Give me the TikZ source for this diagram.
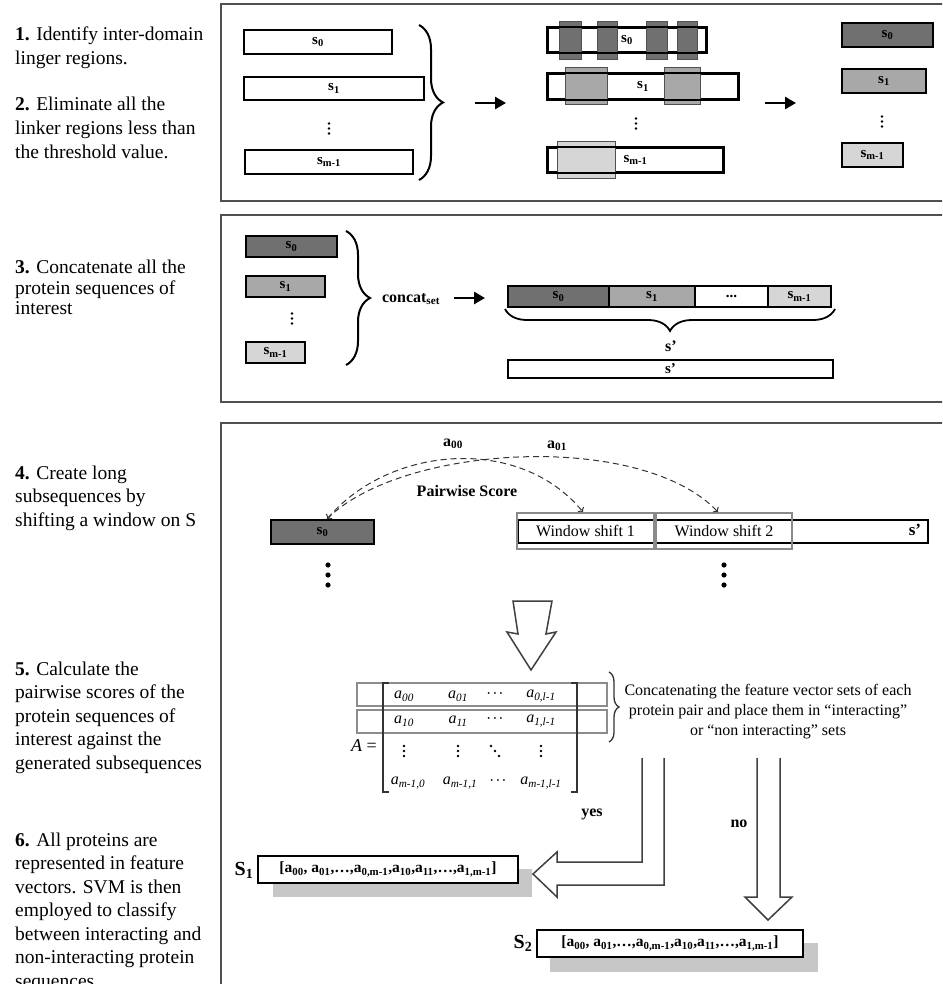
\documentclass[tikz,border=0pt]{standalone}
\usepackage{fontspec}
\setmainfont{Liberation Serif}
\usetikzlibrary{decorations.pathreplacing,arrows.meta}
\definecolor{dk}{HTML}{707070}
\definecolor{md}{HTML}{A8A8A8}
\definecolor{lt}{HTML}{D6D6D6}
\definecolor{frm}{HTML}{505050}
\definecolor{win}{HTML}{8A8A8A}
\newcommand{\mel}[2]{\textit{a}\textsubscript{\textit{#1}}}
\begin{document}
\begin{tikzpicture}[x=1pt,y=-1pt,
  seq/.style={draw=black,line width=2.2pt,inner sep=0pt,font=\fontsize{15}{15}\selectfont\bfseries},
  panel/.style={draw=frm,line width=1.6pt},
  ltext/.style={anchor=base west,inner sep=0pt,font=\fontsize{19.5}{23}\selectfont},
  patchd/.style={fill=dk,draw=frm,line width=0.8pt},
  patchm/.style={fill=md,draw=frm,line width=0.8pt},
  patchl/.style={fill=lt,draw=frm,line width=0.8pt},
  fatarrow/.style={-{Triangle[length=11pt,width=12pt]},line width=2.6pt},
  br/.style={decorate,decoration={brace,amplitude=#1},line width=2pt},
  lbl/.style={inner sep=0pt,font=\fontsize{16}{16}\selectfont\bfseries},
  wbox/.style={draw=win,line width=2.4pt,inner sep=0pt,minimum height=36pt,font=\fontsize{16}{16}\selectfont},
  dsh/.style={dashed,dash pattern=on 6pt off 4pt,line width=1pt,draw=black!80},
  ment/.style={inner sep=0pt,font=\fontsize{16}{16}\selectfont},
  mdots/.style={inner sep=0pt,font=\fontsize{13}{13}\selectfont\boldmath},
  rowbox/.style={draw=black!45,line width=1.5pt},
  hollow/.style={draw=black!75,line width=1.5pt,line join=miter},
  note/.style={inner sep=0pt,align=center,font=\fontsize{16}{20}\selectfont},
  vec/.style={draw=black,line width=2.2pt,fill=white,inner sep=0pt,minimum height=27pt,font=\fontsize{15.5}{16}\selectfont\bfseries},
  shadow/.style={fill=black!22}
]
\useasboundingbox (0,0) rectangle (942,984);
\clip (0,0) rectangle (942,984);
\fill[white] (0,0) rectangle (942,984);

% ---------------- left column text ----------------
\node[ltext] (t1a) at (15,41) {\textbf{1.} Identify inter-domain};
\node[ltext] (t1b) at (15,65) {linger regions.};
\node[ltext] (t2a) at (15,111) {\textbf{2.} Eliminate all the};
\node[ltext] (t2b) at (15,135) {linker regions less than};
\node[ltext] (t2c) at (15,159) {the threshold value.};
\node[ltext] (t3a) at (15,273) {\textbf{3.} Concatenate all the};
\node[ltext] (t3b) at (15,294) {protein sequences of};
\node[ltext] (t3c) at (15,314) {interest};
\node[ltext] (t4a) at (15,479) {\textbf{4.} Create long};
\node[ltext] (t4b) at (15,502.5) {subsequences by};
\node[ltext] (t4c) at (15,526) {shifting a window on S};
\node[ltext] (t5a) at (15,675) {\textbf{5.} Calculate the};
\node[ltext] (t5b) at (15,698.5) {pairwise scores of the};
\node[ltext] (t5c) at (15,722) {protein sequences of};
\node[ltext] (t5d) at (15,745.5) {interest against the};
\node[ltext] (t5e) at (15,769) {generated subsequences};
\node[ltext] (t6a) at (15,846) {\textbf{6.} All proteins are};
\node[ltext] (t6b) at (15,869.5) {represented in feature};
\node[ltext] (t6c) at (15,893) {vectors. SVM is then};
\node[ltext] (t6d) at (15,916.5) {employed to classify};
\node[ltext] (t6e) at (15,940) {between interacting and};
\node[ltext] (t6f) at (15,963.5) {non-interacting protein};
\node[ltext] (t6g) at (15,987) {sequences.};

% ---------------- panel frames ----------------
\draw[panel] (221,4) rectangle (950,201);
\draw[panel] (221,215) rectangle (950,402);
\draw[panel] (221,995) -- (221,423) -- (950,423);

% ---------------- panel 1 ----------------
\node[seq,fill=white,minimum width=148pt,minimum height=24pt] (a0) at (318,42) {s\textsubscript{0}};
\node[seq,fill=white,minimum width=180pt,minimum height=23pt] (a1) at (334,88.5) {s\textsubscript{1}};
\fill (329,123.5) circle (1.4pt) (329,128.5) circle (1.4pt) (329,133.5) circle (1.4pt);
\node[seq,fill=white,minimum width=168pt,minimum height=24pt] (a2) at (329,162) {s\textsubscript{m-1}};
\coordinate (abt) at (419,25);
\coordinate (abb) at (419,180);
\draw[br=24pt] (abt) -- (abb);
\coordinate (aa1) at (475,103);
\coordinate (aa2) at (506,103);
\draw[fatarrow] (aa1) -- (aa2);

\node[seq,fill=white,minimum width=158pt,minimum height=24pt] (b0) at (627,40) {s\textsubscript{0}};
\node[seq,fill=white,minimum width=190pt,minimum height=25pt] (b1) at (643,86.5) {s\textsubscript{1}};
\node[seq,fill=white,minimum width=175pt,minimum height=24pt] (b2) at (635.5,160) {s\textsubscript{m-1}};
\draw[patchd] (559,21) rectangle (581,59);
\draw[patchd] (597,21) rectangle (617,59);
\draw[patchd] (646,21) rectangle (667,59);
\draw[patchd] (677,21) rectangle (697,59);
\draw[patchm] (565,67) rectangle (607,104);
\draw[patchm] (664,67) rectangle (700,104);
\draw[patchl] (557,141) rectangle (615,178);
\draw[line width=2.2pt] (b0.south west) rectangle (b0.north east);
\draw[line width=2.2pt] (b1.south west) rectangle (b1.north east);
\draw[line width=2.2pt] (b2.south west) rectangle (b2.north east);
\fill (636,118.5) circle (1.4pt) (636,123.5) circle (1.4pt) (636,128.5) circle (1.4pt);
\coordinate (ba1) at (765,103);
\coordinate (ba2) at (796,103);
\draw[fatarrow] (ba1) -- (ba2);

\node[seq,fill=dk,minimum width=91pt,minimum height=24pt] (c0) at (887.5,35) {s\textsubscript{0}};
\node[seq,fill=md,minimum width=84pt,minimum height=24pt] (c1) at (884,81) {s\textsubscript{1}};
\fill (882,116.5) circle (1.4pt) (882,121.5) circle (1.4pt) (882,126.5) circle (1.4pt);
\node[seq,fill=lt,minimum width=61pt,minimum height=24pt] (c2) at (872.5,155) {s\textsubscript{m-1}};

% ---------------- panel 2 ----------------
\node[seq,fill=dk,minimum width=91pt,minimum height=21pt] (q0) at (291.5,246.5) {s\textsubscript{0}};
\node[seq,fill=md,minimum width=79pt,minimum height=21pt] (q1) at (285.5,286.5) {s\textsubscript{1}};
\fill (292,313.5) circle (1.4pt) (292,318.5) circle (1.4pt) (292,323.5) circle (1.4pt);
\node[seq,fill=lt,minimum width=59pt,minimum height=21pt] (q2) at (275.5,352.5) {s\textsubscript{m-1}};
\coordinate (qbt) at (346,231);
\coordinate (qbb) at (346,365);
\draw[br=24pt] (qbt) -- (qbb);
\node[lbl] (cl) at (411,299) {concat\textsubscript{set}};
\coordinate (qa1) at (454,298);
\coordinate (qa2) at (485,298);
\draw[fatarrow] (qa1) -- (qa2);

\node[seq,fill=dk,minimum width=101pt,minimum height=21pt] (d0) at (558.5,296.5) {s\textsubscript{0}};
\node[seq,fill=md,minimum width=86pt,minimum height=21pt] (d1) at (652,296.5) {s\textsubscript{1}};
\node[seq,fill=white,minimum width=73pt,minimum height=21pt] (d2) at (731.5,296.5) {...};
\node[seq,fill=lt,minimum width=63pt,minimum height=21pt] (d3) at (799.5,296.5) {s\textsubscript{m-1}};
\coordinate (ubr) at (835,309);
\coordinate (ubl) at (505,309);
\draw[br=22pt,line width=1.8pt] (ubr) -- (ubl);
\node[lbl] (ubs) at (671,346) {s'};
\node[seq,fill=white,minimum width=325pt,minimum height=18pt] (sp) at (670.5,369) {s'};

% ---------------- panel 3 ----------------
\node[seq,fill=dk,minimum width=103pt,minimum height=24pt] (e0) at (322.5,532) {s\textsubscript{0}};
\fill (328,565) circle (2.6pt) (328,575) circle (2.6pt) (328,585) circle (2.6pt);
\node[seq,fill=white,minimum width=410pt,minimum height=23pt] (bar) at (723,531.5) {};
\node[lbl,font=\fontsize{17}{17}\selectfont\bfseries] (barl) at (915,530) {s'};
\node[wbox,minimum width=137pt] (w1) at (585.5,531) {Window shift 1};
\node[wbox,minimum width=136pt] (w2) at (724,531) {Window shift 2};
\fill (724,565) circle (2.6pt) (724,575) circle (2.6pt) (724,585) circle (2.6pt);

\coordinate (e0t) at (327,519);
\coordinate (w1t) at (583,512);
\coordinate (w2t) at (718,512);
\draw[dsh,<->] (e0t) .. controls (390,445) and (520,435) .. (w1t);
\draw[dsh,->] (e0t) .. controls (400,445) and (640,430) .. (w2t);
\node[lbl] (a00) at (453,444) {a\textsubscript{00}};
\node[lbl] (a01) at (557,446) {a\textsubscript{01}};
\node[lbl] (pws) at (467,491) {Pairwise Score};

% big hollow down arrow
\draw[hollow,fill=white] (513,601) -- (552,601) -- (546,634) -- (556,632) -- (531,670)
  -- (507,632) -- (518,634) -- cycle;

% matrix
\draw[rowbox] (357,683) rectangle (607,706);
\draw[rowbox] (357,710) rectangle (607,733);
\draw[line width=1.5pt,draw=black!80] (389,683) -- (383,683) -- (383,792) -- (389,792);
\draw[line width=1.5pt,draw=black!80] (571,683) -- (577,683) -- (577,792) -- (571,792);
\node[ment] (m00) at (404,696) {\mel{00}{}};
\node[ment] (m01) at (458,696) {\mel{01}{}};
\node[mdots] (m02) at (495,694) {$\cdots$};
\node[ment] (m03) at (541,696) {\mel{0,l-1}{}};
\node[ment] (m10) at (404,721) {\mel{10}{}};
\node[ment] (m11) at (458,721) {\mel{11}{}};
\node[mdots] (m12) at (495,719) {$\cdots$};
\node[ment] (m13) at (541,721) {\mel{1,l-1}{}};
\foreach \mx in {404,458,541}
  \fill (\mx,746) circle (1.3pt) (\mx,751) circle (1.3pt) (\mx,756) circle (1.3pt);
\fill (491,746) circle (1.3pt) (495,751) circle (1.3pt) (499,756) circle (1.3pt);
\node[ment] (m30) at (408,783) {\mel{m-1,0}{}};
\node[ment] (m31) at (460,783) {\mel{m-1,1}{}};
\node[mdots] (m32) at (498,781) {$\cdots$};
\node[ment] (m33) at (541,783) {\mel{m-1,l-1}{}};
\node[ment,font=\fontsize{18}{18}\selectfont] (aeq) at (364,746) {\textit{A} =};

\coordinate (rbt) at (609,672);
\coordinate (rbb) at (609,742);
\draw[br=10pt,line width=1.3pt,draw=black!80] (rbt) -- (rbb);
\node[note] (cnote) at (768,712) {Concatenating the feature vector sets of each\\protein pair and place them in ``interacting''\\or ``non interacting'' sets};

% yes / no arrows
\draw[hollow] (664,758) -- (664,885) -- (557,885) -- (557,897) -- (533,874) -- (557,852)
  -- (557,862) -- (642,862) -- (642,758);
\node[lbl] (yes) at (592,814) {yes};
\draw[hollow] (757,758) -- (757,897) -- (745,897) -- (768,920) -- (792,897) -- (780,897) -- (780,758);
\node[lbl] (no) at (739,824) {no};

% result vectors
\fill[shadow] (273,869) rectangle (532,897);
\node[vec,minimum width=260pt] (v1) at (388,869.5) {[a\textsubscript{00}, a\textsubscript{01},…,a\textsubscript{0,m-1},a\textsubscript{10},a\textsubscript{11},…,a\textsubscript{1,m-1}]};
\node[inner sep=0pt,font=\fontsize{20}{20}\selectfont\bfseries] (s1l) at (244,870) {S\textsubscript{1}};
\fill[shadow] (550,943) rectangle (818,972);
\node[vec,minimum width=266pt] (v2) at (670,943.5) {[a\textsubscript{00}, a\textsubscript{01},…,a\textsubscript{0,m-1},a\textsubscript{10},a\textsubscript{11},…,a\textsubscript{1,m-1}]};
\node[inner sep=0pt,font=\fontsize{20}{20}\selectfont\bfseries] (s2l) at (523,943) {S\textsubscript{2}};
\end{tikzpicture}
\end{document}
